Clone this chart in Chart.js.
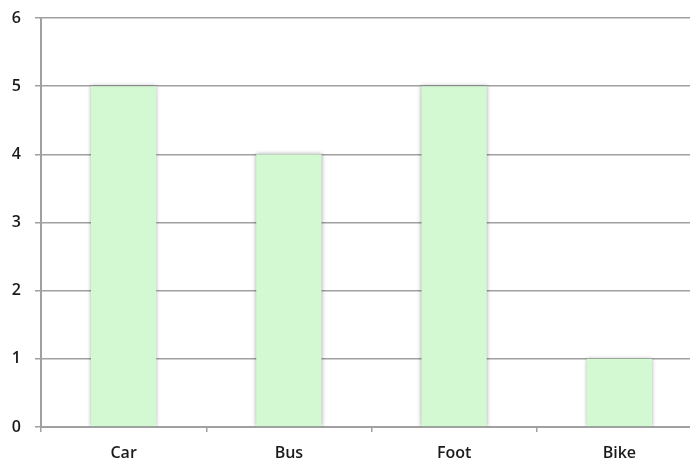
<!DOCTYPE html>
<html>
<head>
<meta charset="utf-8">
<script src="https://cdn.jsdelivr.net/npm/chart.js@4/dist/chart.umd.min.js"></script>
<style>
  html, body { margin: 0; padding: 0; background: #fff; overflow: hidden; }
  #wrap { width: 702px; height: 461px; }
</style>
</head>
<body>
<div id="wrap"><canvas id="travelChart"></canvas></div>
<script>
var modes  = ["Car", "Bus", "Foot", "Bike"];
var counts = [5, 4, 5, 1];
var yTicks = [0, 1, 2, 3, 4, 5, 6];

// soft grey edge around the bars
var barShadow = {
  id: 'barShadow',
  beforeDatasetsDraw: function(chart) {
    var c = chart.ctx;
    c.save();
    c.shadowColor = 'rgba(0,0,0,0.35)';
    c.shadowBlur = 4;
    c.shadowOffsetX = 0;
    c.shadowOffsetY = 0;
  },
  afterDatasetsDraw: function(chart) {
    chart.ctx.restore();
  }
};

var lblFont = { family: "'Open Sans', sans-serif", size: 16, weight: '600' };

new Chart(document.getElementById('travelChart'), {
  type: 'bar',
  data: {
    labels: modes,
    datasets: [{
      data: counts,
      backgroundColor: '#d3f9d3',
      borderWidth: 0,
      barPercentage: 0.395,
      categoryPercentage: 1.0
    }]
  },
  options: {
    responsive: true,
    maintainAspectRatio: false,
    animation: false,
    layout: { padding: { top: 18, right: 0, left: 0, bottom: 0 } },
    plugins: { legend: { display: false }, tooltip: { enabled: false } },
    scales: {
      x: {
        offset: true,
        grid: { offset: true, drawOnChartArea: false, drawTicks: true, tickLength: 5, color: '#a0a0a0', lineWidth: 1.5 },
        border: { color: '#a0a0a0', width: 2 },
        ticks: { color: '#1a1a1a', font: lblFont, padding: 12 },
        afterFit: function(s) { s.height = 34; }
      },
      y: {
        min: 0,
        max: 6,
        afterBuildTicks: function(s) { s.ticks = yTicks.map(function(v) { return { value: v }; }); },
        grid: { color: '#a0a0a0', lineWidth: 1.5, tickLength: 6 },
        border: { color: '#a0a0a0', width: 2 },
        ticks: { color: '#1a1a1a', font: lblFont, padding: 14 },
        afterFit: function(s) { s.width = 41; s.paddingTop = 0; s.paddingBottom = 0; }
      }
    }
  },
  plugins: [barShadow]
});
</script>
</body>
</html>
